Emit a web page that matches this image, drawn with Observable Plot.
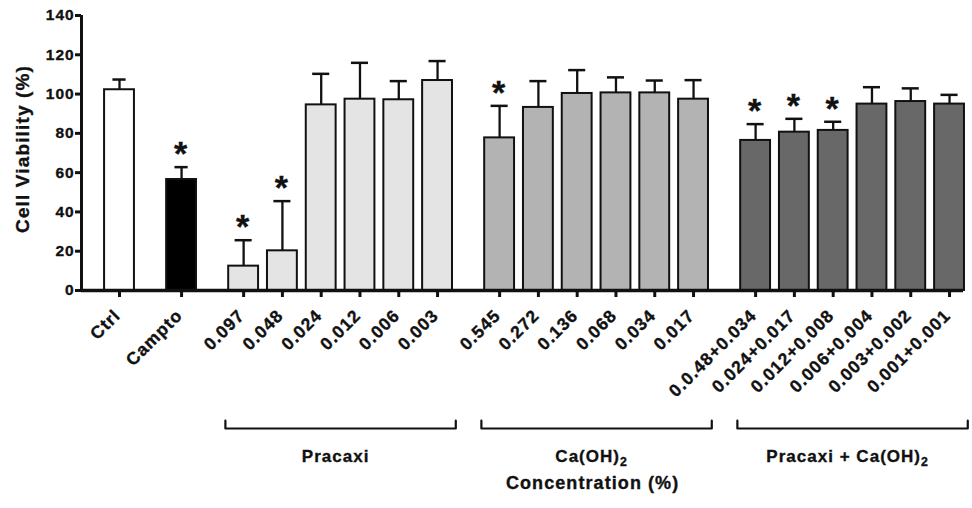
<!DOCTYPE html>
<html><head><meta charset="utf-8">
<script src="https://cdn.jsdelivr.net/npm/d3@7"></script>
<script src="https://cdn.jsdelivr.net/npm/@observablehq/plot@0.6"></script>
<style>
html,body{margin:0;padding:0;background:#fff;}
svg text{letter-spacing:0.06em;stroke:#111;stroke-width:0.35px;}
</style>
</head><body><div id="chart"></div>
<script>
const labels = ["Ctrl","Campto",
  "0.097","0.048","0.024","0.012","0.006","0.003",
  "0.545","0.272","0.136","0.068","0.034","0.017",
  "0.0.48+0.034","0.024+0.017","0.012+0.008","0.006+0.004","0.003+0.002","0.001+0.001"];
const means = [102.2, 56.5,
  12.4, 20.2, 94.5, 97.4, 97.1, 106.9,
  77.7, 93.2, 100.3, 100.6, 100.6, 97.4,
  76.4, 80.6, 81.5, 94.9, 96.2, 94.9];
const sds = [5.2, 6.3,
  13.2, 25.3, 15.8, 18.5, 9.5, 9.9,
  16.3, 13.4, 11.9, 7.9, 6.3, 9.7,
  8.3, 6.8, 4.4, 8.6, 6.7, 4.7];
const groups = ["Ctrl","Campto",
  "Pracaxi","Pracaxi","Pracaxi","Pracaxi","Pracaxi","Pracaxi",
  "Ca(OH)₂","Ca(OH)₂","Ca(OH)₂","Ca(OH)₂","Ca(OH)₂","Ca(OH)₂",
  "Pracaxi + Ca(OH)₂","Pracaxi + Ca(OH)₂","Pracaxi + Ca(OH)₂","Pracaxi + Ca(OH)₂","Pracaxi + Ca(OH)₂","Pracaxi + Ca(OH)₂"];
const significant = [false,true,
  true,true,false,false,false,false,
  true,false,false,false,false,false,
  true,true,true,false,false,false];
const groupNames = ["Pracaxi","Ca(OH)₂","Pracaxi + Ca(OH)₂"];
const yTicks = [0,20,40,60,80,100,120,140];
const yTitle = "Cell Viability (%)";
const xTitle = "Concentration (%)";

const fills = {"Ctrl":"#ffffff","Campto":"#000000","Pracaxi":"#e4e4e4","Ca(OH)₂":"#b3b3b3","Pracaxi + Ca(OH)₂":"#686868"};
const INK = "#111";
const GAP = 1.6;
let p = -GAP, prev = null;
const data = labels.map((label, i) => {
  const g = groups[i];
  p += (g === prev) ? 1 : GAP;
  prev = g;
  return {label, mean: means[i], top: means[i] + sds[i], group: g, sig: significant[i], pos: p,
          cap: groupNames.includes(g) ? 0.22 : 0.17};
});
const brackets = groupNames.map(name => {
  const items = data.filter(d => d.group === name);
  const x1 = items[0].pos - 0.47, x2 = items[items.length - 1].pos + 0.47;
  return {name, x1, x2, cx: (x1 + x2) / 2};
});
const bracketPts = brackets.flatMap(b => [
  {g: b.name, x: b.x1, y: 4}, {g: b.name, x: b.x1, y: 0},
  {g: b.name, x: b.x2, y: 0}, {g: b.name, x: b.x2, y: 4}]);
const caCenter = brackets[1].cx;
const xDomain = [-0.98, 21.76];

const chart = Plot.plot({
  width: 972, height: 508,
  marginLeft: 81, marginRight: 9, marginTop: 15, marginBottom: 218,
  x: {domain: xDomain, label: null},
  y: {domain: [0, 140], label: null},
  style: {fontFamily: "'Liberation Sans', Arial, sans-serif", fontWeight: "bold", fontSize: "15px", color: INK, background: "#fff"},
  marks: [
    Plot.rectY(data, {x1: d => d.pos - 0.385, x2: d => d.pos + 0.385, y1: 0, y2: "mean",
      fill: d => fills[d.group], stroke: INK, strokeWidth: 2}),
    Plot.ruleX(data, {x: "pos", y1: "mean", y2: "top", stroke: INK, strokeWidth: 2.3}),
    Plot.ruleY(data, {y: "top", x1: d => d.pos - d.cap, x2: d => d.pos + d.cap, stroke: INK, strokeWidth: 2.5}),
    Plot.text(data.filter(d => d.sig), {x: "pos", y: "top", text: () => "*", fontSize: 34, lineAnchor: "bottom", dy: -2, fill: INK}),
    Plot.ruleY([0], {stroke: INK, strokeWidth: 3.5}),
    Plot.ruleX([xDomain[0]], {y1: 0, y2: 140, stroke: INK, strokeWidth: 3}),
    Plot.axisY({ticks: yTicks, tickSize: 6, tickPadding: 1, strokeWidth: 3, fontSize: 15.5, fill: INK}),
    Plot.axisX({ticks: data.map(d => d.pos), tickSize: 7, strokeWidth: 3, fill: "none", stroke: INK}),
    Plot.text(data, {x: "pos", y: 0, text: "label", rotate: -45, textAnchor: "end", lineAnchor: "bottom", dx: 2, dy: 26, fontSize: 17.5, fill: INK}),
    Plot.line(bracketPts, {x: "x", y: "y", z: "g", dy: 138, stroke: INK, strokeWidth: 2.2}),
    Plot.text(brackets, {x: "cx", y: 0, text: "name", dy: 171, dx: -5, lineAnchor: "bottom", fontSize: 17, fill: INK}),
    Plot.text([xTitle], {x: () => caCenter, y: () => 0, text: d => d, dy: 198, dx: -4, lineAnchor: "bottom", fontSize: 18, fill: INK}),
    Plot.text([yTitle], {frameAnchor: "left", text: d => d, rotate: -90, textAnchor: "middle", lineAnchor: "bottom", dx: -53, dy: -4, fontSize: 19, fill: INK})
  ]
});
// render the subscript 2 of Ca(OH)2 as a lowered, smaller digit
chart.querySelectorAll("text").forEach(t => {
  if (t.children.length === 0 && t.textContent.includes("₂")) {
    const parts = t.textContent.split("₂");
    t.textContent = "";
    parts.forEach((s, i) => {
      if (s) t.appendChild(document.createTextNode(s));
      if (i < parts.length - 1) {
        const ts = document.createElementNS("http://www.w3.org/2000/svg", "tspan");
        ts.setAttribute("font-size", "0.72em");
        ts.setAttribute("dy", "0.35em");
        ts.textContent = "2";
        t.appendChild(ts);
      }
    });
  }
});
document.getElementById("chart").appendChild(chart);
</script>
</body></html>
